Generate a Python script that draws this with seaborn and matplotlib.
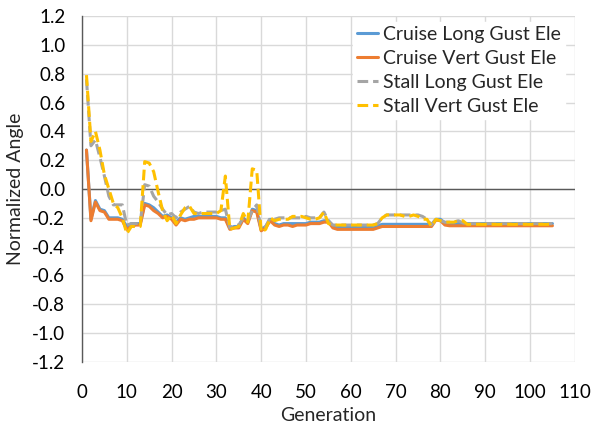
import numpy as np
import pandas as pd
import matplotlib
matplotlib.use("Agg")
import matplotlib.pyplot as plt
import seaborn as sns

sns.set_style("white")
plt.rcParams['font.family'] = ['Lato', 'DejaVu Sans']

_fontsize = 14

generation = list(range(1, 106))

cruise_long = [0.27, -0.21, -0.08, -0.14, -0.15, -0.20, -0.20, -0.20, -0.21, -0.26,
               -0.24, -0.24, -0.24, -0.10, -0.11, -0.13, -0.16, -0.19, -0.18, -0.20,
               -0.23, -0.20, -0.21, -0.20, -0.19, -0.19, -0.19, -0.19, -0.19, -0.19,
               -0.20, -0.20, -0.27, -0.26, -0.26, -0.20, -0.23, -0.14, -0.15, -0.28,
               -0.26, -0.21, -0.24, -0.25, -0.24, -0.24, -0.24, -0.24, -0.24, -0.24,
               -0.23, -0.23, -0.23, -0.22, -0.22, -0.26, -0.265, -0.265, -0.265, -0.265,
               -0.265, -0.265, -0.265, -0.265, -0.265, -0.255, -0.245, -0.245, -0.245, -0.245,
               -0.245, -0.245, -0.245, -0.245, -0.245, -0.245, -0.245, -0.245, -0.21, -0.21,
               -0.235, -0.24, -0.24, -0.24, -0.24, -0.24, -0.24, -0.24, -0.24, -0.24,
               -0.24, -0.24, -0.24, -0.24, -0.24, -0.24, -0.24, -0.24, -0.24, -0.24,
               -0.24, -0.24, -0.24, -0.24, -0.24]

cruise_vert = [0.27, -0.22, -0.09, -0.15, -0.16, -0.21, -0.21, -0.21, -0.22, -0.28,
               -0.26, -0.25, -0.25, -0.11, -0.12, -0.15, -0.17, -0.20, -0.19, -0.21,
               -0.25, -0.21, -0.22, -0.21, -0.21, -0.20, -0.20, -0.20, -0.20, -0.20,
               -0.21, -0.21, -0.28, -0.27, -0.27, -0.21, -0.24, -0.15, -0.16, -0.29,
               -0.27, -0.22, -0.25, -0.26, -0.25, -0.25, -0.26, -0.25, -0.25, -0.25,
               -0.24, -0.24, -0.24, -0.23, -0.23, -0.27, -0.28, -0.28, -0.28, -0.28,
               -0.28, -0.28, -0.28, -0.28, -0.28, -0.27, -0.26, -0.26, -0.26, -0.26,
               -0.26, -0.26, -0.26, -0.26, -0.26, -0.26, -0.26, -0.26, -0.215, -0.22,
               -0.25, -0.255, -0.255, -0.255, -0.255, -0.255, -0.255, -0.255, -0.255, -0.255,
               -0.255, -0.255, -0.255, -0.255, -0.255, -0.255, -0.255, -0.255, -0.255, -0.255,
               -0.255, -0.255, -0.255, -0.255, -0.255]

stall_long = [0.76, 0.30, 0.34, 0.22, 0.09, -0.05, -0.11, -0.11, -0.11, -0.25,
              -0.24, -0.24, -0.24, 0.03, 0.02, -0.05, -0.09, -0.14, -0.18, -0.17,
              -0.20, -0.16, -0.14, -0.12, -0.16, -0.17, -0.16, -0.16, -0.16, -0.16,
              -0.15, -0.14, -0.27, -0.25, -0.25, -0.20, -0.22, -0.15, -0.11, -0.28,
              -0.26, -0.20, -0.21, -0.20, -0.20, -0.20, -0.20, -0.20, -0.20, -0.19,
              -0.20, -0.20, -0.20, -0.16, -0.22, -0.25, -0.25, -0.25, -0.25, -0.25,
              -0.25, -0.25, -0.25, -0.25, -0.25, -0.24, -0.20, -0.18, -0.18, -0.18,
              -0.18, -0.18, -0.18, -0.18, -0.18, -0.19, -0.21, -0.25, -0.21, -0.22,
              -0.23, -0.23, -0.23, -0.22, -0.235, -0.24, -0.24, -0.24, -0.24, -0.24,
              -0.24, -0.24, -0.24, -0.24, -0.24, -0.24, -0.24, -0.24, -0.24, -0.24,
              -0.24, -0.24, -0.24, -0.24, -0.24]

stall_vert = [0.79, 0.33, 0.40, 0.27, 0.10, 0.00, -0.10, -0.13, -0.20, -0.31,
              -0.26, -0.26, -0.26, 0.19, 0.18, 0.12, -0.02, -0.15, -0.22, -0.18,
              -0.24, -0.18, -0.13, -0.12, -0.17, -0.17, -0.17, -0.17, -0.17, -0.17,
              -0.15, 0.09, -0.28, -0.27, -0.26, -0.17, -0.23, 0.14, 0.13, -0.30,
              -0.28, -0.20, -0.22, -0.21, -0.21, -0.21, -0.19, -0.19, -0.19, -0.20,
              -0.21, -0.21, -0.20, -0.16, -0.24, -0.25, -0.25, -0.25, -0.25, -0.25,
              -0.25, -0.25, -0.25, -0.25, -0.25, -0.24, -0.20, -0.18, -0.18, -0.18,
              -0.18, -0.19, -0.19, -0.18, -0.19, -0.21, -0.21, -0.26, -0.21, -0.22,
              -0.23, -0.23, -0.23, -0.22, -0.22, -0.245, -0.245, -0.245, -0.245, -0.245,
              -0.245, -0.245, -0.245, -0.245, -0.245, -0.245, -0.245, -0.245, -0.245, -0.245,
              -0.245, -0.245, -0.245, -0.245, -0.245]

names = ["Cruise Long Gust Ele", "Cruise Vert Gust Ele",
         "Stall Long Gust Ele", "Stall Vert Gust Ele"]
colors = ["#5B9BD5", "#ED7D31", "#A5A5A5", "#FFC000"]
yticks = [-1.2, -1.0, -0.8, -0.6, -0.4, -0.2, 0.0, 0.2, 0.4, 0.6, 0.8, 1.0, 1.2]
ytick_labels = ["-1.2", "-1.0", "-0.8", "-0.6", "-0.4", "-0.2", "0.0",
                "0.2", "0.4", "0.6", "0.8", "1.0", "1.2"]

frames = []
for name, vals in zip(names, [cruise_long, cruise_vert, stall_long, stall_vert]):
    frames.append(pd.DataFrame({"Generation": generation, "value": vals, "series": name}))
dataSet = pd.concat(frames, ignore_index=True)

fig = plt.figure(figsize=(5.92, 4.33), dpi=100)
ax = fig.add_axes([0.1385, 0.164, 0.8325, 0.799])

dash_map = {names[0]: "", names[1]: "", names[2]: (3.5, 1.6), names[3]: (3.5, 1.6)}
sns.lineplot(data=dataSet, x="Generation", y="value", hue="series", style="series",
             hue_order=names, style_order=names, palette=dict(zip(names, colors)),
             dashes=dash_map, linewidth=2.2, ax=ax, legend="full")

ax.set_xlim(0, 110)
ax.set_ylim(-1.2, 1.2)
ax.set_xticks(np.arange(0, 111, 10))
ax.set_yticks(yticks)
ax.set_yticklabels(ytick_labels)
ax.grid(True, color="#D9D9D9", linewidth=1.0)
ax.set_axisbelow(True)
for s in ["top", "right", "bottom"]:
    ax.spines[s].set_visible(False)
ax.spines["left"].set_color("#595959")
ax.spines["left"].set_linewidth(1.0)
ax.axhline(0, color="#595959", linewidth=1.0, zorder=1)
ax.tick_params(axis="both", length=0, labelsize=13.5, colors="black")
ax.tick_params(axis="y", pad=12)
ax.tick_params(axis="x", pad=16)

ax.set_xlabel("Generation", fontsize=_fontsize)
ax.set_ylabel("Normalized Angle", fontsize=_fontsize)
ax.xaxis.set_label_coords(0.5, -0.13)
ax.yaxis.set_label_coords(-0.117, 0.5)

leg = ax.legend(loc="upper left", bbox_to_anchor=(343 / 592, 1 - 12 / 433),
                bbox_transform=fig.transFigure, frameon=True,
                fontsize=_fontsize, handlelength=1.1, labelspacing=0.36,
                borderpad=0.2, handletextpad=0.25)
leg.get_frame().set_edgecolor("white")
leg.get_frame().set_facecolor("white")
leg.get_frame().set_alpha(1.0)

plt.savefig("out.png", dpi=100)
